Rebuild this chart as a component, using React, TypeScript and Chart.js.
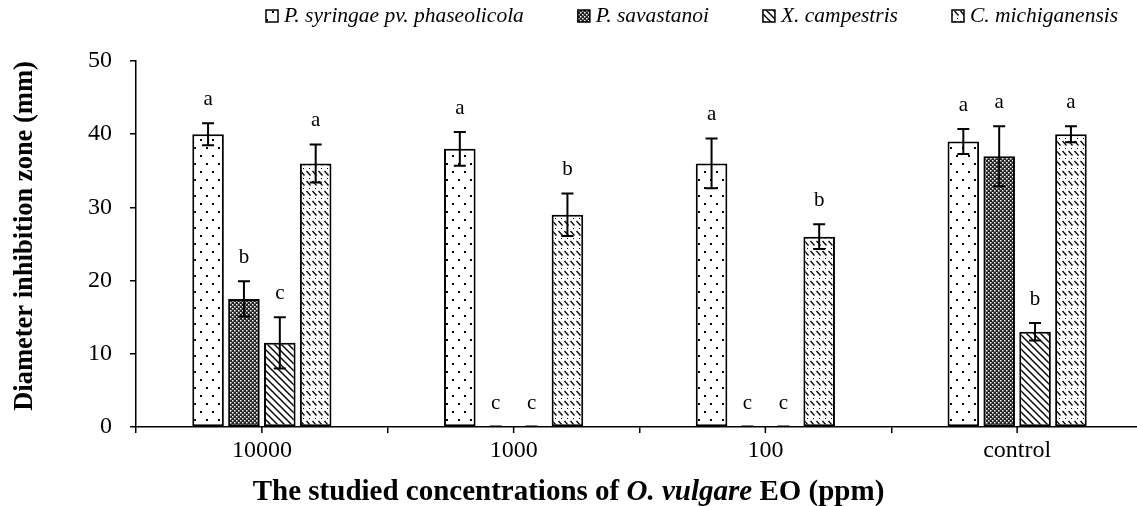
import React, { useEffect, useRef } from 'react';
import { Chart, registerables } from 'chart.js';

Chart.register(...registerables);

const FONT = '"Liberation Serif", "Times New Roman", Times, serif';
const VIEW_W = 1137;
const VIEW_H = 506;
const CANVAS_W = 1143;

// ---- data ----
const categories = ['10000', '1000', '100', 'control'];
const seriesNames = ['P. syringae pv. phaseolicola', 'P. savastanoi', 'X. campestris', 'C. michiganensis'];
const syringae = [40, 38, 36, 39];
const savastanoi = [17.5, 0, 0, 37];
const campestris = [11.5, 0, 0, 13];
const michiganensis = [36, 29, 26, 40];
const syringaeErr = [1.5, 2.3, 3.4, 1.7];
const savastanoiErr = [2.4, 0, 0, 4.1];
const campestrisErr = [3.5, 0, 0, 1.2];
const michiganensisErr = [2.6, 2.9, 1.7, 1.1];
const syringaeLetters = ['a', 'a', 'a', 'a'];
const savastanoiLetters = ['b', 'c', 'c', 'a'];
const campestrisLetters = ['c', 'c', 'c', 'b'];
const michiganensisLetters = ['a', 'b', 'b', 'a'];
const yTicks = [0, 10, 20, 30, 40, 50];
const yTitle = 'Diameter inhibition zone (mm)';
const xTitleParts = [
  { text: 'The studied concentrations of ', italic: false },
  { text: 'O. vulgare', italic: true },
  { text: ' EO (ppm)', italic: false },
];

const seriesValues = [syringae, savastanoi, campestris, michiganensis];
const seriesErrs = [syringaeErr, savastanoiErr, campestrisErr, michiganensisErr];
const seriesLetters = [syringaeLetters, savastanoiLetters, campestrisLetters, michiganensisLetters];
const patternKinds = ['dots', 'checker', 'diag', 'dashdiag'];

function makePattern(kind: string): CanvasPattern {
  const c = document.createElement('canvas');
  const ctx = c.getContext('2d') as CanvasRenderingContext2D;
  if (kind === 'dots') {
    c.width = 12; c.height = 16;
    ctx.fillStyle = '#fff'; ctx.fillRect(0, 0, 12, 16);
    ctx.fillStyle = '#000';
    ctx.fillRect(2, 3, 2, 2);
    ctx.fillRect(8, 11, 2, 2);
  } else if (kind === 'checker') {
    c.width = 4; c.height = 4;
    ctx.fillStyle = '#222'; ctx.fillRect(0, 0, 4, 4);
    ctx.fillStyle = '#fff';
    ctx.fillRect(0, 0, 1.5, 1.5);
    ctx.fillRect(2, 2, 1.5, 1.5);
  } else if (kind === 'diag') {
    c.width = 7; c.height = 7;
    ctx.fillStyle = '#fff'; ctx.fillRect(0, 0, 7, 7);
    ctx.strokeStyle = '#000'; ctx.lineWidth = 1.4;
    ctx.beginPath();
    ctx.moveTo(-1, -1); ctx.lineTo(8, 8);
    ctx.moveTo(-1, 6); ctx.lineTo(1, 8);
    ctx.moveTo(6, -1); ctx.lineTo(8, 1);
    ctx.stroke();
  } else {
    c.width = 6; c.height = 10;
    ctx.fillStyle = '#fff'; ctx.fillRect(0, 0, 6, 10);
    ctx.strokeStyle = '#000'; ctx.lineWidth = 1.3;
    ctx.beginPath();
    ctx.moveTo(0.5, 1); ctx.lineTo(4.5, 5.5);
    ctx.stroke();
    ctx.fillStyle = '#000';
    ctx.fillRect(3, 8, 1, 1);
  }
  return ctx.createPattern(c, 'repeat') as CanvasPattern;
}

const overlayPlugin = {
  id: 'overlay',
  afterDatasetsDraw(chart: any) {
    const ctx = chart.ctx as CanvasRenderingContext2D;
    const ys = chart.scales.y;
    ctx.save();
    chart.data.datasets.forEach((ds: any, i: number) => {
      const meta = chart.getDatasetMeta(i);
      meta.data.forEach((bar: any, j: number) => {
        const v = ds.data[j] as number;
        const e = seriesErrs[i][j];
        const x = bar.x;
        const top = ys.getPixelForValue(v + e);
        const bot = ys.getPixelForValue(v - e);
        if (e > 0) {
          ctx.strokeStyle = '#000';
          ctx.lineWidth = 2;
          ctx.beginPath();
          ctx.moveTo(x, top); ctx.lineTo(x, bot);
          ctx.moveTo(x - 6, top); ctx.lineTo(x + 6, top);
          ctx.moveTo(x - 6, bot); ctx.lineTo(x + 6, bot);
          ctx.stroke();
        } else if (v === 0) {
          ctx.strokeStyle = '#000';
          ctx.lineWidth = 1;
          ctx.beginPath();
          ctx.moveTo(x - 6, top - 1); ctx.lineTo(x + 6, top - 1);
          ctx.stroke();
        }
        ctx.fillStyle = '#000';
        ctx.font = `21px ${FONT}`;
        ctx.textAlign = 'center';
        ctx.textBaseline = 'middle';
        ctx.fillText(seriesLetters[i][j], x, top - 24);
      });
    });
    ctx.restore();
  },
  afterDraw(chart: any) {
    const ctx = chart.ctx as CanvasRenderingContext2D;
    const xs = chart.scales.x;
    ctx.save();
    // tick marks at category centres
    ctx.strokeStyle = '#000';
    ctx.lineWidth = 1.5;
    ctx.beginPath();
    xs.ticks.forEach((_t: any, i: number) => {
      const px = xs.getPixelForTick(i);
      ctx.moveTo(px, xs.top);
      ctx.lineTo(px, xs.top + 6);
    });
    ctx.stroke();

    // legend
    ctx.font = `italic 21.5px ${FONT}`;
    ctx.textBaseline = 'middle';
    ctx.textAlign = 'left';
    let lx = 266;
    const ly = 16;
    chart.data.datasets.forEach((ds: any) => {
      ctx.fillStyle = ds.backgroundColor;
      ctx.fillRect(lx, ly - 6, 12, 12);
      ctx.strokeStyle = '#000';
      ctx.lineWidth = 1.5;
      ctx.strokeRect(lx, ly - 6, 12, 12);
      ctx.fillStyle = '#000';
      ctx.fillText(ds.label, lx + 18, ly);
      lx += 18 + ctx.measureText(ds.label).width + 54;
    });

    // y title
    ctx.save();
    ctx.translate(25, 236);
    ctx.rotate(-Math.PI / 2);
    ctx.font = `bold 26.5px ${FONT}`;
    ctx.textAlign = 'center';
    ctx.textBaseline = 'middle';
    ctx.fillStyle = '#000';
    ctx.fillText(yTitle, 0, 0);
    ctx.restore();

    // x title with mixed styles
    const parts = xTitleParts.map((p) => {
      ctx.font = `${p.italic ? 'italic ' : ''}bold 29px ${FONT}`;
      return { ...p, w: ctx.measureText(p.text).width };
    });
    const total = parts.reduce((s, p) => s + p.w, 0);
    let tx = VIEW_W / 2 - total / 2;
    ctx.fillStyle = '#000';
    ctx.textAlign = 'left';
    ctx.textBaseline = 'middle';
    parts.forEach((p) => {
      ctx.font = `${p.italic ? 'italic ' : ''}bold 29px ${FONT}`;
      ctx.fillText(p.text, tx, 493);
      tx += p.w;
    });
    ctx.restore();
  },
};

export default function App() {
  const ref = useRef<HTMLCanvasElement | null>(null);
  useEffect(() => {
    if (!ref.current) return;
    const datasets = seriesNames.map((name, i) => ({
      label: name,
      data: seriesValues[i],
      backgroundColor: makePattern(patternKinds[i]),
      borderColor: '#000',
      borderWidth: 2,
      borderSkipped: false,
      categoryPercentage: 0.57,
      barPercentage: 0.88,
    }));
    const chart = new Chart(ref.current, {
      type: 'bar',
      data: { labels: categories, datasets },
      plugins: [overlayPlugin],
      options: {
        animation: false,
        responsive: false,
        maintainAspectRatio: false,
        layout: { padding: { top: 61, right: 0, bottom: 0, left: 0 } },
        plugins: {
          legend: { display: false },
          tooltip: { enabled: false },
        },
        scales: {
          x: {
            offset: true,
            grid: {
              offset: true,
              drawOnChartArea: false,
              drawTicks: true,
              tickLength: 6,
              color: '#000',
              lineWidth: 1.5,
            },
            border: { display: true, color: '#000', width: 1.5 },
            ticks: {
              color: '#000',
              font: { family: FONT, size: 24 },
              padding: 3,
              maxRotation: 0,
            },
            afterFit: (s: any) => { s.height = 79; },
          },
          y: {
            min: 0,
            max: 50,
            afterBuildTicks: (s: any) => { s.ticks = yTicks.map((v) => ({ value: v })); },
            grid: {
              drawOnChartArea: false,
              drawTicks: true,
              tickLength: 6,
              color: '#000',
              lineWidth: 1.5,
            },
            border: { display: true, color: '#000', width: 1.5 },
            ticks: {
              color: '#000',
              font: { family: FONT, size: 24 },
              padding: 18,
            },
            title: { display: false, text: yTitle },
            afterFit: (s: any) => { s.width = 136; },
          },
        },
      },
    } as any);
    return () => chart.destroy();
  }, []);
  return (
    <div style={{ position: 'fixed', left: 0, top: 0, width: VIEW_W, height: VIEW_H, overflow: 'hidden', background: '#fff' }}>
      <canvas ref={ref} width={CANVAS_W} height={VIEW_H} style={{ width: CANVAS_W, height: VIEW_H, display: 'block' }} />
    </div>
  );
}
